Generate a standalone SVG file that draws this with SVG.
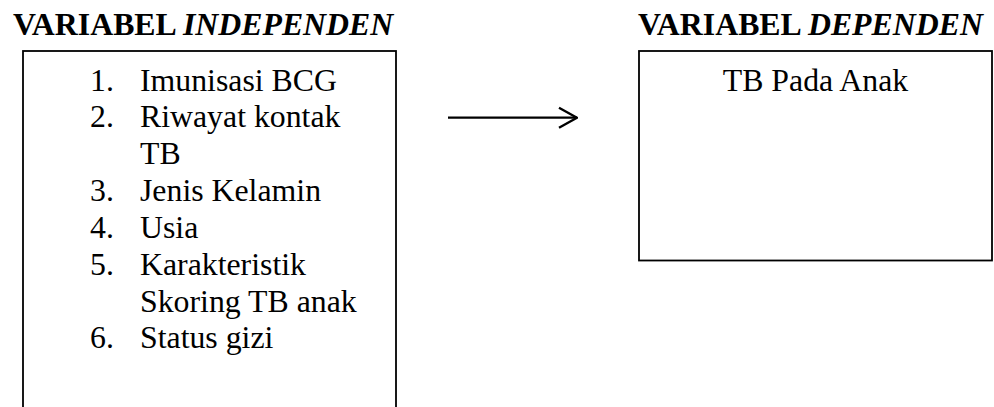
<svg xmlns="http://www.w3.org/2000/svg" width="994" height="407" viewBox="0 0 994 407">
<defs>
<style>
.t{font-family:"Liberation Serif","Times New Roman",serif;font-size:31.8px;fill:#000}
.h{font-weight:bold}
.i{font-style:italic}
.box{fill:#fff;stroke:#000;stroke-width:1.8}
.conn{fill:none;stroke:#000;stroke-width:2.2}
</style>
<marker id="arr" viewBox="0 0 20 24" refX="19" refY="12" markerWidth="20" markerHeight="24" markerUnits="userSpaceOnUse" orient="auto">
<path d="M1,2 L19,12 L1,22" fill="none" stroke="#000" stroke-width="2.4"/>
</marker>
</defs>
<rect width="994" height="407" fill="#fff"/>
<g id="independen">
<text class="t h" x="13" y="35">VARIABEL <tspan class="i">INDEPENDEN</tspan></text>
<rect class="box" x="23" y="51" width="373" height="380"/>
<text class="t" x="90" y="90.7">1.</text><text class="t" x="140" y="90.7">Imunisasi BCG</text>
<text class="t" x="90" y="127.4">2.</text><text class="t" x="140" y="127.4">Riwayat kontak</text>
<text class="t" x="140" y="164.1">TB</text>
<text class="t" x="90" y="200.8">3.</text><text class="t" x="140" y="200.8">Jenis Kelamin</text>
<text class="t" x="90" y="237.5">4.</text><text class="t" x="140" y="237.5">Usia</text>
<text class="t" x="90" y="274.9">5.</text><text class="t" x="140" y="274.9">Karakteristik</text>
<text class="t" x="140" y="311.6">Skoring TB anak</text>
<text class="t" x="90" y="348.3">6.</text><text class="t" x="140" y="348.3">Status gizi</text>
</g>
<g id="dependen">
<text class="t h" x="638" y="35">VARIABEL <tspan class="i">DEPENDEN</tspan></text>
<rect class="box" x="639" y="51" width="353" height="209.5"/>
<text class="t" x="815.5" y="90.7" text-anchor="middle">TB Pada Anak</text>
</g>
<g id="connectors">
<line class="conn" x1="448" y1="117.7" x2="577" y2="117.7" marker-end="url(#arr)"/>
</g>
</svg>
